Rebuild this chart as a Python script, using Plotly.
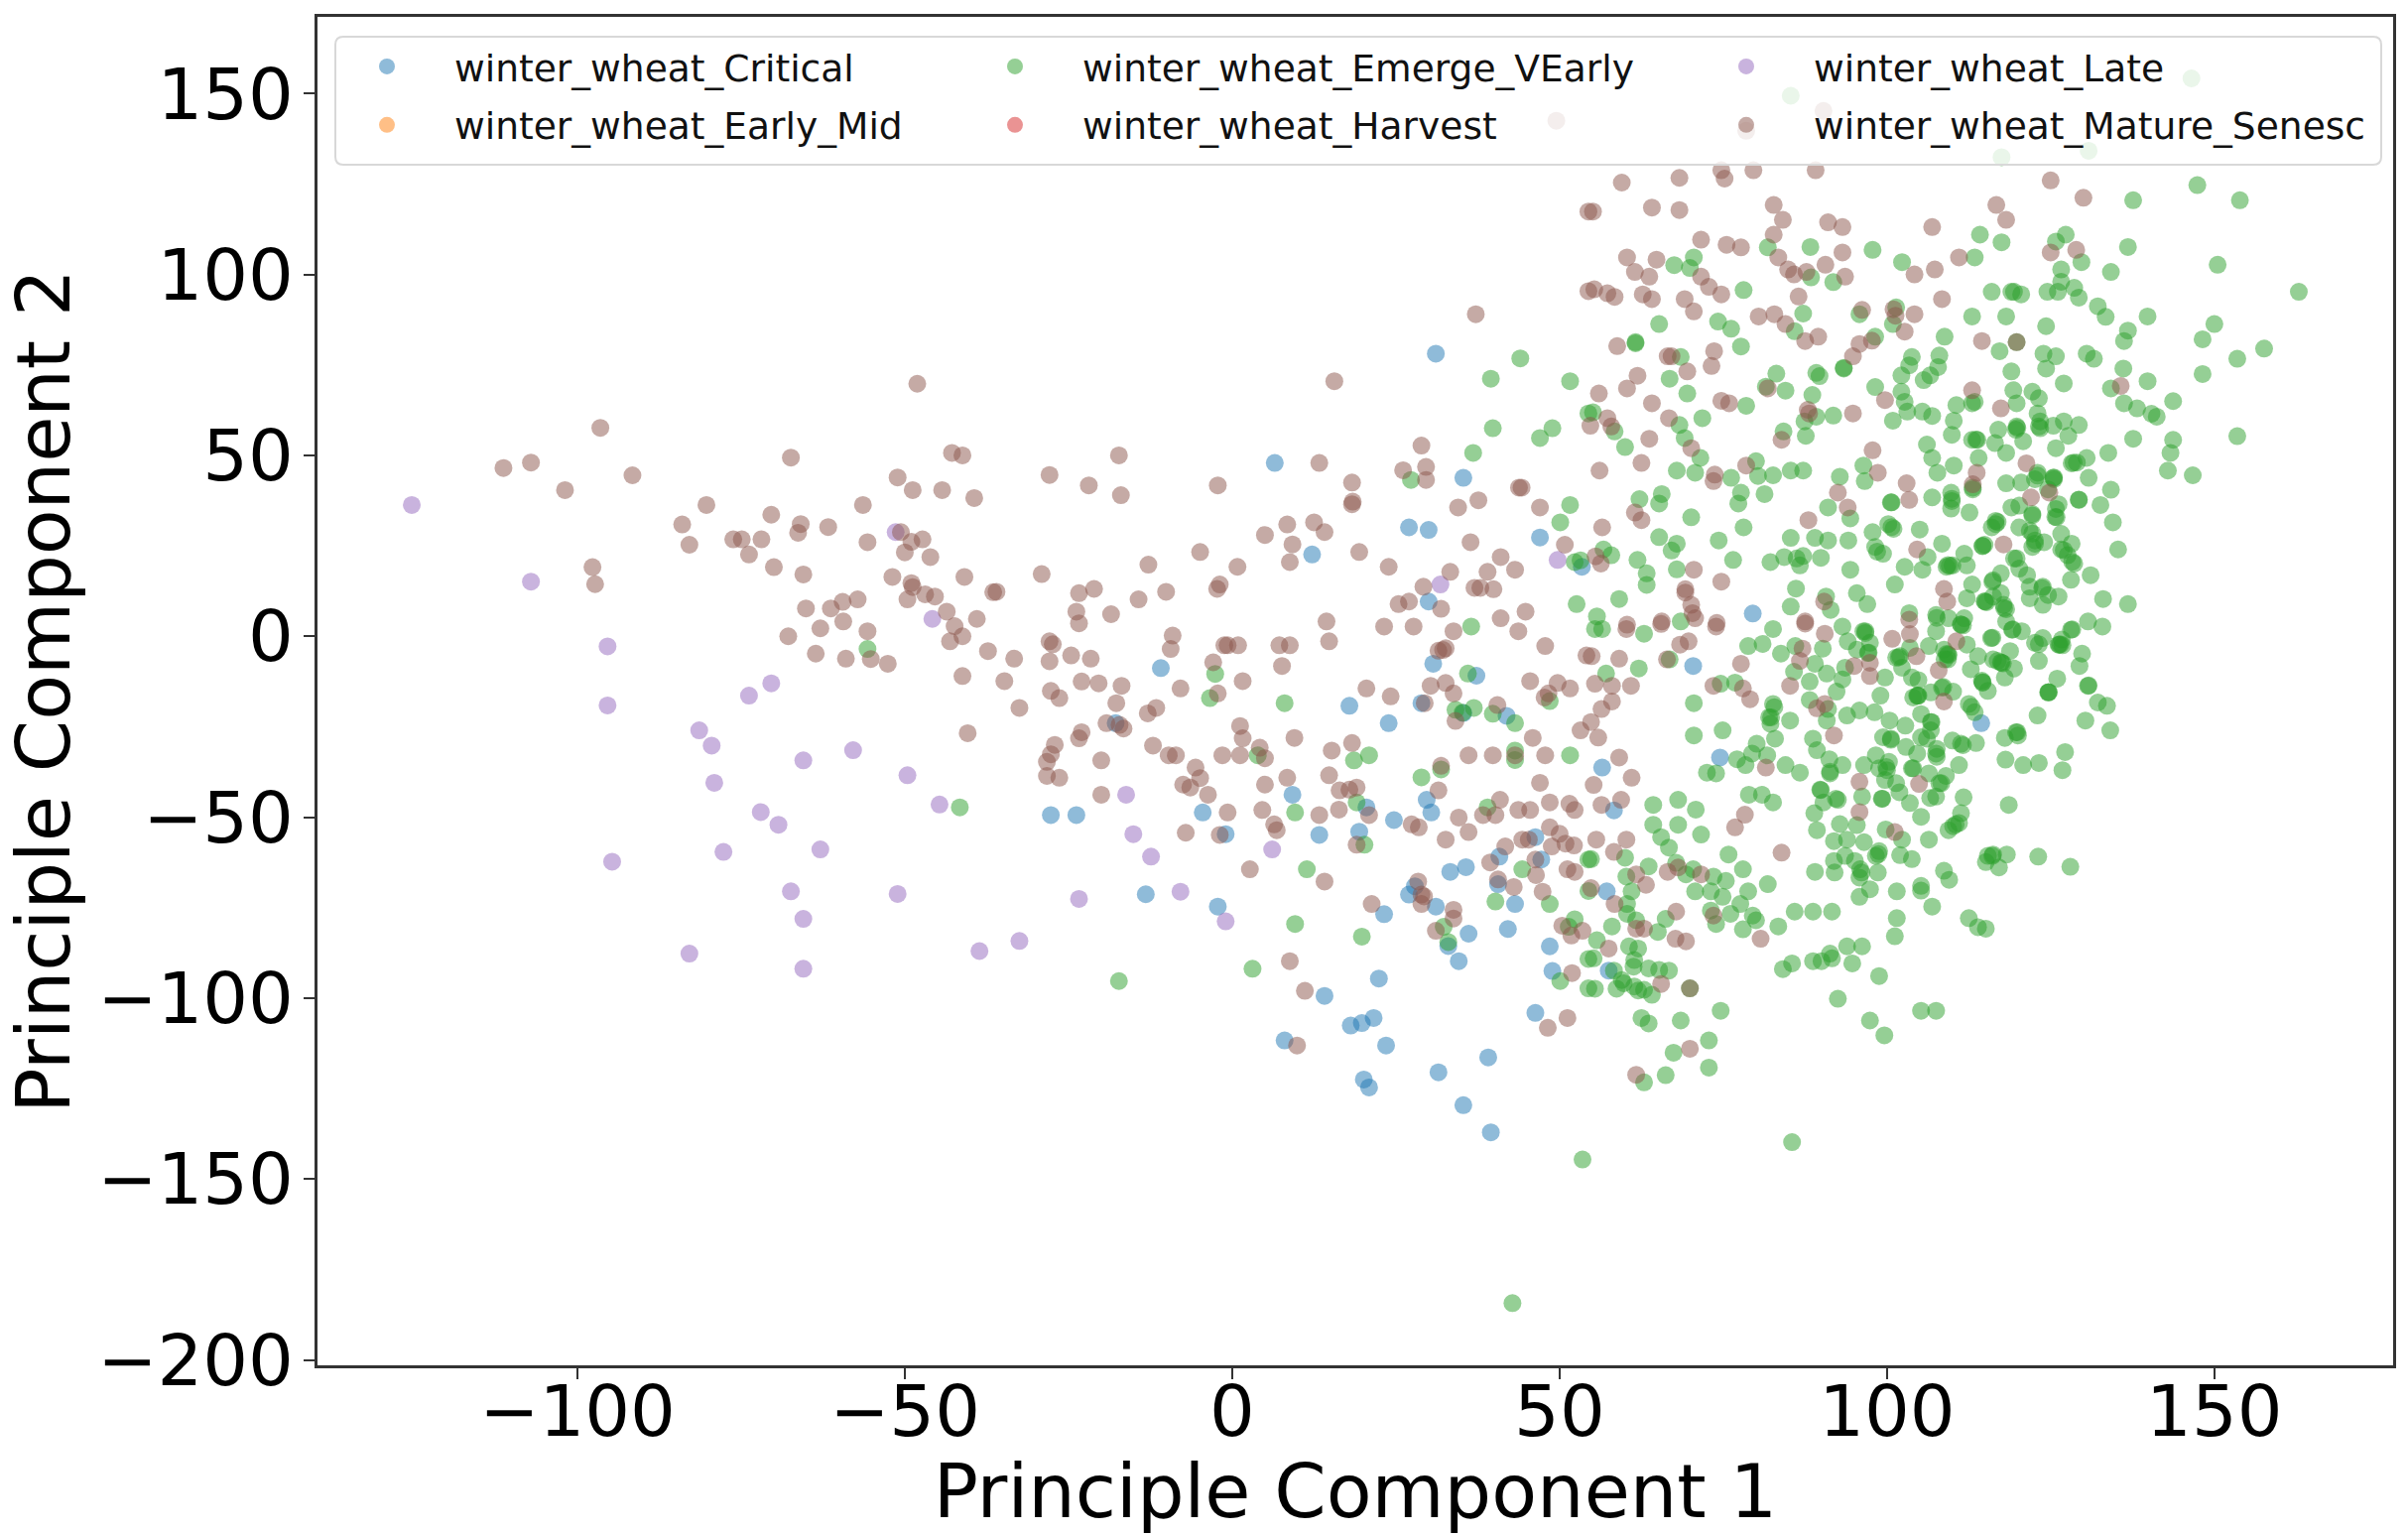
import plotly.graph_objects as go

critical = [(31.1,78.1),(6.5,47.9),(35.3,43.8),(27,30.1),(30,29.4),(12.2,22.6),(47,27.3),(30,9.6),(53.4,19.2),
(-10.9,-8.8),(-17.8,-24),(-27.7,-49.4),(-23.8,-49.4),(-4.5,-48.7),(-1,-54.7),(9.2,-43.8),(13.3,-54.9),(29.7,-45.2),(30.4,-48.7),(20.5,-47.3),(19.4,-54),(24.7,-50.8),(-13.2,-71.3),(-2.2,-74.7),(17.9,-19.2),(23.9,-24),(28.9,-18.5),(30.7,-7.6),(37.3,-10.9),(35.3,-21.2),(41.9,-22),(46.3,-55.5),(40.8,-60.9),(47.2,-61.7),(33.3,-65.1),(35.7,-63.8),(40.6,-68.5),(27.9,-69.1),(27,-71.4),(31.1,-74.7),(23.2,-76.8),(43.2,-74),(36.1,-82.2),(42.1,-80.9),(48.5,-85.7),(33,-85.6),(34.6,-89.8),(48.9,-92.5),(22.4,-94.6),(14.1,-99.4),(18.1,-107.6),(19.8,-106.9),(21.6,-105.5),(8,-111.7),(23.5,-113.1),(20.1,-122.5),(20.9,-124.7),(31.5,-120.5),(39.1,-116.4),(35.3,-129.6),(39.5,-137.1),(46.3,-104.1),
(79.5,6.3),(70.4,-8.2),(74.5,-33.5),(56.5,-36.3),(58.3,-48.1),(114.4,-24),(57.2,-70.5),(57.5,-92.4)]

late = [(-125.3,36.3),(-107.1,15.1),(-95.4,-2.8),(-95.4,-19.1),(-70.4,-13),(-73.8,-16.4),(-81.4,-26),(-79.5,-30.2),(-79.1,-40.5),(-65.5,-34.3),(-57.9,-31.5),(-49.6,-38.4),(-44.7,-46.5),(-72,-48.6),(-69.3,-52.1),(-77.7,-59.6),(-62.9,-58.9),(-94.7,-62.3),(-67.4,-70.5),(-51.1,-71.2),(-65.5,-78.1),(-82.9,-87.7),(-65.5,-91.9),(-38.6,-87),(-51.4,28.8),(-45.8,4.8),
(-16.2,-43.8),(-15.1,-54.7),(-12.4,-60.9),(6.1,-58.9),(-23.4,-72.6),(-7.9,-70.6),(-1,-78.8),(-32.5,-84.2),(31.8,14.3),(49.7,21.1)]

emerge = [(85.3,149.4),(146.5,154.2),(117.5,132.4),(130.8,134.2),(147.4,124.7),(153.9,120.5),(137.6,120.5),(136.8,107.6),(150.5,102.7),(134.2,100.7),(162.9,95.2),(114.2,111),(117.5,108.9),(127.3,111),(125.8,109.1),(129.7,103.4),(126.6,101.4),(113.4,104.7),(102.3,103.4),(97.8,106.8),(88.3,107.6),(81.8,107.5),(70.5,104.7),(67.5,102.6),(69.9,101.8),(78.1,95.7),(91.8,97.9),(88.4,99.2),(116,95.2),(119,95.2),(119.4,95.2),(120.5,94.5),(124.5,95.2),(126.1,95.2),(126.6,98),(128.6,96.3),(129.3,93.6),(132.2,91.2),(133.4,88.3),(139.8,88.4),(113,88.4),(118.2,88.4),(124.3,85.7),(150,86.3),(148.2,82.1),(136.8,84.5),(136.2,81.6),(157.6,79.5),(153.5,76.7),(148.2,72.5),(153.5,55.3),(108.8,82.8),(117.2,78.8),(119.8,81.3),(123.9,78.1),(125.8,77.4),(124.3,74),(119,73.2),(130.5,78.1),(131.6,76.7),(136.1,74),(139.8,70.5),(127,69.9),(134.2,68.5),(143.7,65),(136.2,64.4),(138.2,63),(140.4,61.5),(141.2,60.7),(137.6,54.6),(143.7,54.3),(143.3,50.7),(142.9,45.8),(146.7,44.5),(133.8,50.7),(130.8,43.8),(130.5,49.3),(129,48),(128.2,47.8),(134.2,40.5),(129.3,37.7),(132.6,36.3),(134.5,31.5),(135.3,24),(131.1,16.9),(128.1,15.6),(133,10.3),(136.8,8.9),(126.6,28.3),(128.2,25.6),(126.6,24),(127.6,22.4),(128.6,20.1),(125.8,35.2),(126.2,36.5),(125.5,43.4),(123,45.2),(122.6,43.4),(125.4,43.8),(124.6,40.6),(118.2,42.3),(120.5,42.5),(113.1,41.1),(118.2,50.7),(114,49.3),(110.2,47.2),(107.7,45.2),(106.9,49.3),(106.1,53),(109.9,55.7),(110.2,59.6),(110.6,63.9),(113,64.4),(113.4,64.8),(119.3,68),(122.2,67.6),(123.2,65.8),(119.8,64.4),(123,61.6),(123.4,59.4),(123.4,57.5),(127,59.4),(125.4,58.2),(129.3,58.4),(127.7,55.4),(125.8,52),(119.8,58),(119.7,57.1),(117,57.1),(120.8,53.9),(116.5,53.4),(113.8,54.3),(113,54.3),(98.2,68.9),(102.2,72.1),(103.8,77.2),(103.4,74.9),(102.2,67.6),(102.7,64.8),(103.1,62.1),(105.4,62.1),(106.9,60.9),(100.9,59.6),(108,77.6),(107.8,74.4),(106.6,72.1),(105.6,70.8),(98.2,82.8),(100.9,86.3),(95.8,89),(101.4,90.9),(87.2,89.2),(85.9,84.3),(93.4,74.2),(93.4,74),(89.2,72.8),(89.7,71.9),(83.1,72.6),(81.5,69),(84.5,67.9),(88.6,66.7),(78.5,63.7),(71.8,60.3),(69.5,67.1),(66.8,71.2),(68.5,77.2),(77.7,80.1),(76.2,85),(74.2,87),(65.2,86.3),(61.6,81.3),(61.6,81),(55.1,61.9),(58.4,56.6),(60,52.3),(68.3,58.4),(69.1,54.8),(71.5,49.3),(67.9,45.8),(70.7,45.2),(76.2,43.8),(80,48.4),(80.3,44.3),(82.6,44.5),(85.3,45.8),(87.2,45.8),(84.2,56.6),(87.6,55.4),(87.4,59.4),(89.2,60.7),(91.8,61),(92.8,44.1),(96.4,47.2),(96.6,42.9),(77.7,39.7),(77.3,36.7),(81.3,39.3),(65.6,39.3),(65.2,36.7),(62.2,37.9),(70.1,32.9),(78.1,30.1),(65.2,27.4),(67.9,25.6),(67.1,23.7),(74.3,26.5),(76.5,21.1),(67.9,18.5),(61.9,21.1),(57.9,22.4),(56.7,24),(63.3,17.4),(63.3,14.2),(59.1,10.3),(85.3,27.2),(89,27.2),(91,26.5),(94.1,26.5),(94.4,32.6),(91,35.6),(97.8,28.8),(100.6,37),(100.2,31),(101,29.7),(105,29.5),(106.9,38.4),(109.8,39.7),(109.9,37.4),(109.8,35.3),(112.6,34.2),(113.1,40.6),(119,35.6),(120.2,36.1),(122.2,33.8),(116.6,31),(116,30.1),(120.2,30.1),(121.8,29.2),(122.6,26.5),(122.2,24.7),(124,26),(125.9,32.9),(114.6,24.9),(108.4,25.6),(98.2,24.7),(99.4,22.8),(82.2,20.5),(84.3,21.9),(86.7,19.6),(87.2,22.2),(89.9,21.7),(86.2,21.5),(94.4,18.4),(86.1,13.2),(85.3,8.2),(90.7,11),(91.4,7.3),(95.4,11.9),(97,8.9),(101.2,14.3),(102.7,19.2),(105.4,18.4),(106.2,21.9),(109.1,19.2),(110,19.6),(111.8,22.8),(112.2,19.6),(113,14.3),(112.2,10.5),(115,9.6),(116.2,15.5),(117.4,17.4),(119.8,21.5),(120.2,18.7),(121.4,16.9),(121.8,13.7),(123.8,13.7),(124.6,11.4),(126.2,11),(121.8,10.5),(123.8,8.7),(117.8,8.7),(116.2,11),(117.4,11.9),(103.4,6.4),(107.5,5.9),(109.4,5),(111.8,5),(118.2,4.1),
(62.9,0.7),(55.4,2),(56.5,2),(55.7,5.5),(68.5,4.1),(82.6,2),(81,-2.1),(78.8,-2.7),(83.8,-4.8),(86,-2.7),(90.2,-3.4),(89,-7.6),(85.8,-9.8),(88.2,-12.5),(90.8,-10.3),(93.2,2.7),(94,-1.4),(96.4,1.4),(97.4,-1.8),(97.1,-4.6),(95.4,-3.7),(93.6,-8.7),(93.2,-11.9),(92.3,-15.3),(99.7,-11.4),(99,-16.4),(88.2,-17.6),(91,-20.1),(90.8,-23.3),(93.9,-21.9),(95.8,-20.5),(98.1,-21),(100.4,-23.3),(102.8,-24.7),(82.6,-18.7),(82,-22.4),(85.2,-23.3),(82.2,-24.2),(82.9,-28.3),(80.1,-29.7),(81.7,-32.9),(79.4,-32.4),(77.1,-34),(78.4,-35.6),(84.5,-35.6),(86.7,-37.7),(70.5,-18.5),(70.5,-27.4),(74.9,-26),(62.1,-8.9),(57.1,-10.3),(74.6,-13.1),(76.8,-12.8),(66.8,-6.4),(72.5,-37.7),(73.9,-37.9),(88.7,-28.3),(89.3,-31.5),(91.2,-34),(93.2,-35.6),(91.3,-37.4),(96.5,-35.6),(98.3,-32.9),(100.3,-34.7),(100,-37),(98.8,-36.5),(99.7,-39.7),(101.4,-40.6),(101.9,-43.1),(103.5,-46.1),(99.4,-27.9),(100.6,-28.3),(102.9,-30.6),(104.6,-32.4),(105.2,-21.5),(106.7,-23.7),(106.7,-26),(105.2,-27.9),(106.1,-28.3),(107.6,-31.1),(107.6,-33.3),(110,-28.8),(111.6,-30.1),(113.6,-29.5),(111,-35.6),(103.8,-36.5),(106.4,-37.9),(109,-38.6),(108,-40.6),(106.6,-44.7),(107.5,-44.3),(111.7,-44.5),(111.3,-48.9),(111,-51.6),(109.4,-53.6),(110.1,-52.5),(105.2,-49.9),(106.4,-56.2),(104,-16.9),(104.6,-16.4),(106.7,-15.5),(108.4,-14.2),(110.1,-15.3),(112.8,-9.1),(114.5,-12.3),(115.4,-15.1),(112.5,-18.7),(113.4,-21),(118,-11.4),(119.4,-8.9),(117.5,-7.3),(116.2,-6.4),(113.9,-5.5),(115.9,-0.5),(119.1,1.8),(120.6,1.4),(118.8,-4.1),(123.2,-6.8),(122.6,-1.8),(123.8,-0.5),(126.3,-2.3),(126.7,-0.9),(128.1,1.8),(130.7,4.1),(132.9,2.7),(129.8,-4.8),(129.4,-8.2),(126,-11.7),(124.6,-15.5),(130.7,-13.7),(132.2,-18.3),(133.6,-19.2),(130.3,-23.3),(134.1,-26),(123,-21.9),(118,-28.1),(119.7,-26.5),(120,-27.4),(118.1,-34.1),(120.8,-35.6),(123.2,-35),(127.2,-32),(126.8,-37),(118.6,-46.6),(112.2,-2.3),(111.3,3.2),(108.7,-3.7),(109.3,-6.4),(109.3,-5),(107.5,1.4),(106.4,-2.7),(102,-5.5),(101.4,-5.9),(103.5,-3.2),(102.3,-8.7),(103.8,-11.4),(104.8,-12.1),(89.9,-42.5),(78.9,-43.8),(80.9,-43.8),(82.6,-45.9),(92.2,-44.9),(92.5,-45.2),(90.3,-45.9),(88.9,-48.9),(89.3,-53.6),(92.8,-51.9),(95.4,-52.2),(96.2,-44.3),(99.2,-44.9),(99.8,-53.4),(102.3,-56.2),(96.5,-56.9),(93.9,-56.2),(91.9,-56.6),(93.6,-60.7),(95.1,-62.1),(91.9,-62.1),(92,-65.3),(89,-65.1),(95.9,-64.4),(95.8,-66.7),(98.6,-65.3),(98.3,-60.7),(98.8,-59.4),(102,-60.5),(103.8,-61.6),(97.4,-69.9),(95.8,-72),(101.5,-70.5),(105.2,-69),(105.2,-70.3),(108.7,-64.8),(109.5,-67.3),(106.9,-74.7),(101.5,-77.9),(101.2,-82.9),(112.5,-77.9),(113.9,-80.4),(115.1,-80.8),(118.3,-60.3),(116.2,-60.3),(115.4,-60.7),(115.1,-62.4),(117.1,-63.9),(123.1,-60.9),(128,-63.7),(93.9,-85.7),(96.2,-85.7),(94.7,-90.4),(91.3,-87.7),(91.6,-89),(90,-89.8),(88.7,-89.8),(85.5,-90.4),(84.1,-92),(98.8,-93.9),(92.5,-100.2),(105.2,-103.5),(107.5,-103.5),(97.4,-106.2),(99.6,-110.3),(71.6,-54.8),(68.1,-52.1),(68.1,-45.2),(64.3,-46.6),(64.3,-52.1),(70.8,-47.9),(65.5,-55.5),(66.7,-58.4),(67.8,-62.6),(60,-61.2),(54.8,-61.6),(63.6,-63.6),(60.2,-66.4),(75.8,-60.3),(78,-64.4),(70.4,-64.4),(73.5,-66.4),(75.4,-67.6),(81.8,-68.5),(78.8,-70.5),(74.9,-72),(73.1,-70.5),(70.7,-70.5),(69.3,-65.8),(61,-70.5),(60.3,-74),(60.3,-76.7),(77.6,-74),(76.1,-76.7),(73.1,-75.8),(79.5,-77.2),(80,-78.5),(78,-81),(73.9,-79.5),(83.4,-80.2),(85.9,-76.1),(88.7,-76.1),(91.6,-76.1),(66.2,-78.1),(65,-81.7),(58,-80.2),(61.7,-78.5),(55.7,-84),(55.2,-89),(60.6,-85.7),(62,-86.3),(61.4,-89.5),(61.3,-91.3),(63.6,-91.8),(65.2,-92.2),(66.7,-92.4),(58.3,-92.4),(59.5,-95),(59.8,-95.9),(58.7,-97.4),(55.4,-97.4),(61.4,-96.8),(62,-97.9),(62.9,-97.7),(64.1,-99.1),(69.9,-97.3),(62.5,-105.5),(63.6,-107),(68.5,-106.2),(74.6,-103.5),(72.8,-111.7),(67.4,-115.1),(72.8,-119.2),(66.2,-121.3),(62.9,-123.3),
(44,76.8),(39.5,71.2),(51.6,70.5),(39.8,57.5),(48.9,57.5),(47,54.8),(36.8,50.7),(27.3,43.2),(51.6,36.3),(50.1,31.5),(52.3,20.5),(53.2,21),(52.6,8.9),(54.4,61.6),
(36.5,2.7),(-2.6,-10.4),(-3.4,-17.1),(8,-18.5),(3.9,-32.9),(18.6,-34.3),(20.9,-32.9),(28.9,-39),(31.9,-36.8),(36,-10.3),(34.1,-20.3),(36.9,-19.8),(39.8,-21.4),(43.2,-24),(35.2,-21.1),(43.2,-31.6),(43.2,-34.2),(51.6,-32.9),(48.5,-17.9),(19,-45.9),(9.6,-48.7),(20.2,-57.6),(39,-47.3),(44.3,-64.4),(48.5,-74),(40.2,-73.3),(11.4,-64.4),(9.6,-79.5),(19.8,-83),(32.3,-80.3),(33,-84.5),(52.3,-78.2),(50.1,-95.3),(3.1,-91.9),(-17.3,-95.3),(53.5,-144.6),(51.4,-80.3),(54.4,-61.7),(54.4,-70.4),(54.4,-89.2),(54.4,-97.3),(-55.7,-3.5),(-41.6,-47.3),(42.8,-184.3),(85.5,-139.8),
(114.6,25),(114.9,25.3),(109.3,19.7),(109.6,19.5),(109.9,38),(116.9,31.6),(116.6,31.9),(122.2,33.4),(122.2,28.4),(122.6,25.6),(125.7,33),(129.3,37.8),(125.5,43.9),(123,44.4),(114.9,9.7),(115.2,9.4),(116.1,15.1),(117.9,7.8),(118.2,7.5),(111.3,3.3),(111.6,3),(107.6,5.1),(109.1,-4.9),(109.4,-5.2),(108.6,-14),(104.8,-16.4),(114.6,-12.7),(117.4,-7.2),(117.7,-7.5),(116.1,-0.4),(119.2,1.9),(126.5,-2.2),(126.8,-2.5),(128.3,1.9),(123.2,-2.2),(124.7,-15.4),(130.8,-13.6),(123.7,13.3),(119.4,21.5),(127,23.8),(128.3,20.6),(98.5,23.4),(100.7,30.2),(100.7,37),(128.5,48),(101.8,-5.8),(96.7,1.4),(123.2,58),(119.9,57.6),(113.6,54.4),(112.9,-19.5),
(99.3,-44.9),(106.8,-23.7),(100.6,-28.6),(107.5,-32.4),(111.3,-29.7),(99.9,-36.1),(104,-36.5),(108.3,-40.6),(110.5,-52),(124.7,-15.5),(114.6,-12.8),(108.8,-6.4),(116.9,-6.8),(126.2,-2.3),(96.7,0.9),(97.2,-4.5),(104.7,-16.4),(91.3,-37.9),(89.8,-42.4),(116.1,-60.7),(119.9,-26.5),(82.8,-19.6),(96.1,-65.3),(98.7,-60.2),(82.3,-22.4)]

mature = [(49.5,142.5),(90.3,145.2),(78.5,139.7),(125,126),(130,121.2),(59.5,125.4),(68.3,126.7),(74.7,128.8),(75.2,126.5),(79.6,128.8),(89.1,128.8),(55.1,117.4),(64.1,118.5),(68.3,117.8),(82.7,119.2),(84.1,115.1),(91,114.4),(93.2,113.1),(106.9,113.1),(116.7,119.2),(118.2,115.1),(82.7,111),(71.6,109.6),(75.5,108.2),(77.7,107.5),(60.3,104.7),(64.8,104.1),(83.4,104.7),(93.2,106.1),(125,106.1),(128.9,106.8),(111,104.7),(90.6,102.7),(84.9,101.4),(85.8,100),(87.7,100.7),(93.6,99.4),(104.2,100),(107.3,101.4),(61.5,100.7),(63.7,99.4),(71.6,99.4),(72.8,96.6),(74.7,94.5),(55.3,95.9),(57.3,94.8),(58.4,93.8),(62.7,94.5),(64.1,93.2),(69.1,93.2),(70.5,89.8),(86.5,93.9),(108.4,93.2),(96.2,90.2),(101,90.4),(101.3,88.6),(104.2,89),(80.4,88.4),(82.8,89),(84.5,86.3),(89.5,82.8),(87.5,81.6),(102.7,84.2),(97.7,81.7),(95.8,80.8),(94.8,77.4),(114.5,81.6),(119.8,81.3),(58.8,80.2),(66.5,77.4),(67.1,77.4),(73.6,78.8),(73.2,74.7),(69.5,73.2),(61.9,72),(60.3,68.5),(56,67.1),(81.8,68.5),(64.1,64.4),(74.7,65.1),(75.9,64.4),(99.7,65.3),(113,68),(117.4,63),(135.7,69.2),(94.8,61.6),(87.9,62.6),(88.1,61.6),(66.7,60.3),(57.3,60.3),(57.9,58),(54.7,58.2),(63.7,54.6),(70.1,52),(83.9,54.3),(97.8,51.4),(62.5,47.9),(56.1,45.8),(73.7,44.7),(73.5,42.9),(78.5,47.2),(121.3,47.8),(113.7,45.2),(113.1,42),(98.6,45.2),(103,42.3),(92.5,39.7),(103.4,37.7),(122,38.4),(124.8,39.7),(94,35.6),(61.5,34.2),(62.5,32.1),(88,32.1),(56.5,30.1),(117.8,25.4),(104.6,24),(55.5,22.1),(56.3,20.1),(70.5,18.4),(74.7,15.1),(69.2,13),(69.2,12.1),(70.1,8.7),(70.3,6.4),(70.7,5),(90.4,9.6),(108.7,13.1),(109.2,9.6),(65.6,4.1),(60.3,3.2),(74,3.7),(87.5,4.1),(103.4,4.6),
(60.2,2),(65.5,3.4),(73.9,2.7),(87.5,3.5),(90.5,0.7),(100.8,-0.7),(103.5,0.6),(87.1,-3.4),(86.7,-6.8),(69.7,-1.4),(68.4,-2.3),(54.9,-5.5),(59.1,-6.2),(66.4,-6.4),(77.7,-7.6),(95,-8.2),(97.4,-7.3),(97.4,-11),(104.5,-5.5),(110.6,-1.4),(107.9,-9.4),(55.4,-13.1),(58,-13.7),(60.9,-13.7),(73.5,-13.7),(78,-14.4),(79.1,-17.4),(85.2,-13.7),(108.7,-18),(58,-18),(56.4,-20.1),(54.8,-23.7),(55.9,-28),(90.5,-18.7),(89.3,-19.9),(91.9,-27.4),(59.1,-33.5),(61,-39.1),(55.2,-41.1),(81.5,-36.3),(95.8,-40.2),(104.9,-40.8),(59.4,-45.2),(56.4,-46.6),(78.3,-49.3),(76.8,-52.8),(95.8,-48.6),(101.2,-54.1),(55.6,-56.2),(60.2,-56.2),(58.3,-59.6),(83.9,-59.8),(68.1,-63.9),(66.5,-65.1),(71.6,-65.8),(61.7,-65.8),(63.2,-68.7),(54.8,-69.6),(58.4,-74),(67.8,-76.1),(73.5,-77.2),(61.7,-80.8),(62.9,-80.8),(67.7,-83.6),(69.3,-84.3),(80.7,-83.6),(57.5,-86.3),(65.5,-96.1),(69.9,-97.3),(69.9,-114),(61.7,-121.2),
(37.2,89),(15.6,70.5),(-17.3,50),(-27.9,44.6),(-21.9,41.7),(-17,39),(-2.2,41.7),(13.3,47.9),(18.3,42.5),(18.3,36.5),(18.4,37.2),(28.9,52.7),(26.1,45.9),(29.6,46.8),(29.6,43.2),(43.8,41.1),(44.2,41.1),(37.6,37.6),(34.5,35.6),(47,35.6),(36.4,26),(50.8,25.3),(41,21.9),(43.2,18.4),(39,17.8),(33.3,17.8),(29.2,13.7),(37.9,13.4),(37,13.4),(39.9,13),(27,9.6),(25.4,8.9),(31.9,7.6),(44.8,6.8),(41,5),(54.4,117.4),(54.4,95.4),(5,28),(8.4,30.9),(12.5,31.5),(14.1,28.8),(9.2,25.4),(8.8,20.5),(19.4,23.3),(23.9,19.2),(-4.9,23.3),(-12.8,19.8),(0.8,19.2),(-29.1,17.2),(-36,12.3),(-23.4,11.9),(-21.1,13.1),(-14.3,10.2),(-10.1,12.3),(-1.9,14.3),(-2.3,13.1),(-23.8,6.8),(-18.5,6.1),(14.4,4.1),
(-23.4,3.6),(23.2,2.7),(27.7,2.7),(14.8,-1.4),(33.8,1.4),(43.7,1.4),(47.8,-2.7),(54.1,-5.3),(-27.9,-1.4),(-27.4,-2.2),(-27.9,-6.9),(-24.6,-5.3),(-21.6,-6.2),(-33.3,-6.2),(-34.8,-12.4),(-9.1,0.2),(-9.4,-3.5),(-1.2,-2.5),(-0.7,-2.5),(0.9,-2.5),(7.2,-2.5),(8.8,-2.5),(7.6,-8.2),(-2.9,-7.2),(1.6,-12.4),(-7.9,-14.4),(-2.2,-15.8),(32.2,-3.8),(32.6,-3.3),(31.5,-4),(20.5,-14.4),(24.2,-16.6),(30.3,-13.7),(32.6,-12.9),(33.8,-15.8),(29.4,-18.5),(34.1,-23.4),(40.5,-19),(45.5,-12.4),(49.7,-12.9),(48.3,-15.8),(47.7,-16.9),(51.6,-14.4),(53.2,-26),(45.9,-28.1),(-27.7,-15.1),(-26.4,-17.1),(-32.5,-19.8),(-23,-12.5),(-20.4,-13),(-16.9,-13.7),(-17.7,-18.5),(-11.6,-19.8),(-12.9,-21.3),(-19.2,-24),(-17.2,-24.5),(-16.6,-25.5),(-23,-26.5),(-23.4,-28.2),(-27.1,-30),(-27.7,-32.6),(-28.3,-34.7),(-28.3,-38.6),(-26.4,-39.1),(-20,-34.3),(-12.1,-30.2),(-9.7,-32.9),(-8.6,-32.9),(1.2,-24.8),(1.6,-28.2),(-1.5,-32.9),(1.2,-32.9),(4.2,-30.8),(5,-33.7),(9.5,-28.1),(15.2,-31.6),(18.3,-29.5),(-5.6,-36.3),(-4.9,-39.2),(-7.5,-41),(-6.4,-41.8),(-3.7,-43.8),(-20,-43.8),(5,-41),(8.4,-39.1),(14.8,-38.4),(16.4,-42.6),(17.9,-42.4),(19,-41.8),(-0.7,-48.7),(4.6,-48),(6.4,-52),(6.8,-53.6),(-7.1,-54.3),(-1.9,-54.9),(13.3,-49.4),(16.3,-47.9),(20.9,-49.4),(31.9,-35.8),(31.5,-42.6),(36.1,-32.9),(39.8,-32.9),(43.2,-32.9),(47.8,-32.9),(47,-40.5),(48.5,-45.9),(51.5,-46.3),(52.3,-48),(40.9,-45.2),(43.7,-48),(45.5,-48),(40.2,-49.4),(38.3,-49.4),(34.6,-50.1),(36.1,-54.1),(32.6,-56.2),(27.4,-52),(28.5,-52.8),(19,-57.6),(48.5,-52.8),(50,-54.6),(50.9,-57.3),(52.2,-57.8),(48.8,-58.1),(44.3,-56.2),(45.3,-56.2),(41.7,-58.1),(39.4,-62.5),(46.3,-61.7),(51.2,-64.4),(52.3,-65.1),(46.4,-66),(40.6,-67.2),(43,-69.3),(47.4,-70.6),(28.4,-67.8),(28.9,-71.4),(29.3,-71.9),(28.9,-74),(33.8,-75.6),(33.8,-78),(21.3,-74),(31.1,-81.4),(14.1,-67.8),(2.7,-64.4),(8.8,-89.8),(11.1,-98),(9.9,-113.1),(48.2,-108.2),(51.2,-105.5),(51.9,-93.1),(50.4,-80),(51.8,-82.7),(53.5,-81.4),
(-48.1,69.8),(-96.5,57.6),(-111.3,46.5),(-107.1,48),(-91.6,44.5),(-101.9,40.4),(-67.4,49.4),(-42.8,50.7),(-41.2,50),(-51.1,43.9),(-48.8,40.4),(-44.3,40.4),(-39.4,38.2),(-80.3,36.3),(-84,30.9),(-82.9,25.3),(-56.4,36.3),(-70.4,33.6),(-65.9,31),(-66.3,28.6),(-61.7,30.2),(-76.2,26.8),(-74.9,26.8),(-71.9,26.8),(-73.8,22.6),(-70,19.1),(-65.5,17.1),(-55.7,26),(-50.6,28.8),(-49,26.1),(-47.3,26.8),(-50,23.2),(-46.1,21.9),(-51.9,16.4),(-40.9,16.4),(-49,14.7),(-48.8,13.6),(-49.6,10.2),(-46.9,11.6),(-45.4,11),(-36.5,12.2),(-97.7,19.1),(-97.3,14.4),(-57.2,10.2),(-59.5,9.5),(-61.3,7.7),(-65.1,7.7),(-59.4,4.1),(-62.9,2.2),(-67.8,0),(-55.7,1.4),(-63.6,-4.8),(-59,-6.2),(-55.2,-6.3),(-52.6,-7.6),(-43.6,6.8),(-39,4.8),(-42.4,2.8),(-41.2,0),(-43.1,-1.4),(-37.3,-4.1),(-41.2,-11),(-40.4,-26.8)]

x_ticks = [-100, -50, 0, 50, 100, 150]
y_ticks = [-200, -150, -100, -50, 0, 50, 100, 150]

FONT = "DejaVu Sans"
W, H = 2427, 1547
L, R, T, B = 320, 2412, 17, 1376

fig = go.Figure()

def add(name, pts, color, legend):
    xs = [p[0] for p in pts] if pts else [None]
    ys = [p[1] for p in pts] if pts else [None]
    fig.add_trace(go.Scatter(x=xs, y=ys, mode="markers", name=name, legend=legend, legendgroup=name,
                             marker=dict(size=18, color=color, opacity=0.5, line=dict(width=0))))

add("winter_wheat_Critical", critical, "#1f77b4", "legend")
add("winter_wheat_Early_Mid", [], "#ff7f0e", "legend")
add("winter_wheat_Emerge_VEarly", emerge, "#2ca02c", "legend2")
add("winter_wheat_Harvest", [], "#d62728", "legend2")
add("winter_wheat_Late", late, "#9467bd", "legend3")
add("winter_wheat_Mature_Senesc", mature, "#8c564b", "legend3")

def px(v): return (v - L) / (R - L)
def py(v): return (B - v) / (B - T)

def legend_cfg(xpos):
    return dict(x=px(xpos), y=py(36), xanchor="left", yanchor="top", bgcolor="rgba(0,0,0,0)",
                borderwidth=0, font=dict(family=FONT, size=37.6, color="#111"),
                tracegroupgap=7, itemwidth=126, traceorder="grouped")

bx0, bx1, by0, by1 = px(338), px(2400), py(37), py(166)
rx, ry = 8 / (R - L), 8 / (B - T)
box = (f"M {bx0+rx} {by0} L {bx1-rx} {by0} Q {bx1} {by0} {bx1} {by0-ry} L {bx1} {by1+ry} "
       f"Q {bx1} {by1} {bx1-rx} {by1} L {bx0+rx} {by1} Q {bx0} {by1} {bx0} {by1+ry} "
       f"L {bx0} {by0-ry} Q {bx0} {by0} {bx0+rx} {by0} Z")

fig.update_layout(
    width=W, height=H, margin=dict(l=L, r=W - R, t=T, b=H - B, pad=0),
    paper_bgcolor="white", plot_bgcolor="white", font=dict(family=FONT, color="black"),
    legend=legend_cfg(322), legend2=legend_cfg(955), legend3=legend_cfg(1692),
    shapes=[dict(type="path", path=box, xref="paper", yref="paper", layer="above",
                 fillcolor="rgba(255,255,255,0.8)", line=dict(color="#d8d8d8", width=2))],
    xaxis=dict(range=[-139.7, 177.3], tickvals=x_ticks, showgrid=False, zeroline=False,
               showline=True, mirror=True, linecolor="#333", linewidth=2.5,
               ticks="outside", ticklen=11, tickwidth=1.5, tickcolor="#333", ticklabelstandoff=-29,
               tickfont=dict(family=FONT, size=72, color="black"),
               title=dict(text="Principle Component 1", standoff=16,
                          font=dict(family=FONT, size=75, color="black"))),
    yaxis=dict(range=[-201.5, 171.2], tickvals=y_ticks, showgrid=False, zeroline=False,
               showline=True, mirror=True, linecolor="#333", linewidth=2.5,
               ticks="outside", ticklen=11, tickwidth=1.5, tickcolor="#333", ticklabelstandoff=-4,
               tickfont=dict(family=FONT, size=72, color="black"),
               title=dict(text="Principle Component 2", standoff=8,
                          font=dict(family=FONT, size=75, color="black"))),
)

fig.write_html("out.html", config=dict(displayModeBar=False),
               post_script="document.body.style.margin='0';")
